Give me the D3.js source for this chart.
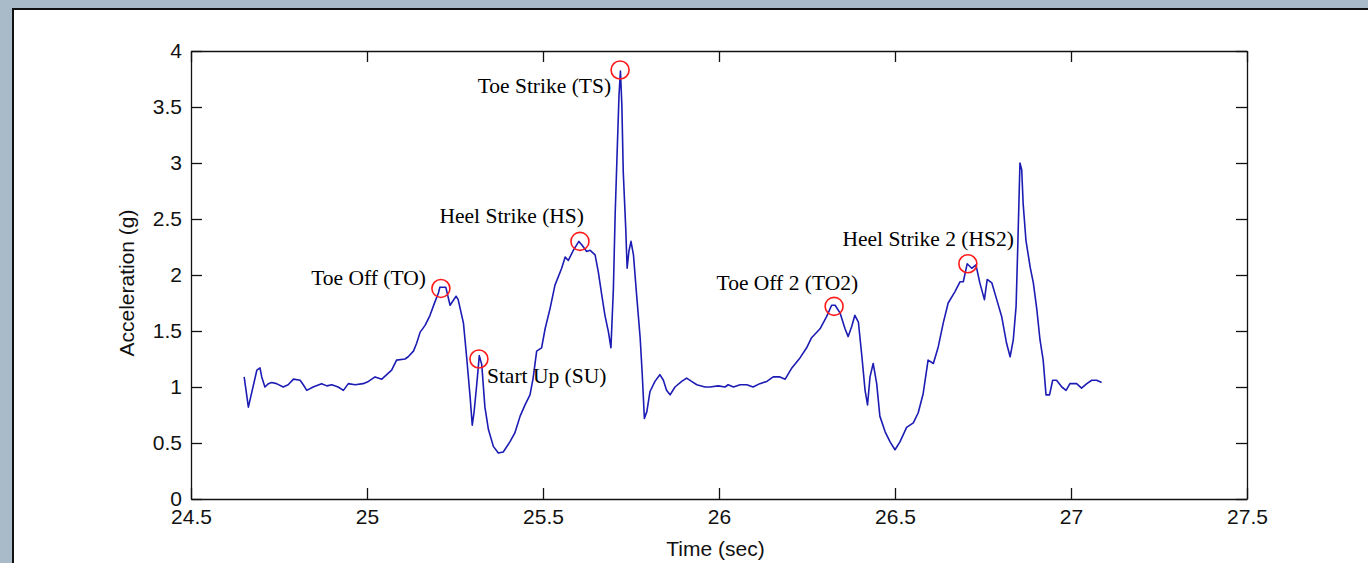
<!DOCTYPE html>
<html>
<head>
<meta charset="utf-8">
<script src="https://cdn.jsdelivr.net/npm/d3@7"></script>
<style>
  html, body { margin: 0; padding: 0; background: #a9bac8; }
  #frame {
    position: absolute; left: 12px; top: 8px; right: 0; bottom: 0;
    background: #fff; border-left: 2px solid #111; border-top: 2px solid #111;
  }
  svg { position: absolute; left: 0; top: 0; }
  .axis text { font-family: "Liberation Sans", Arial, sans-serif; font-size: 21px; fill: #111; }
  .axis path, .axis line { stroke: #111; stroke-width: 1.3; }
  .title { font-family: "Liberation Sans", Arial, sans-serif; font-size: 21px; fill: #111; }
  .note { font-family: "Liberation Serif", "Times New Roman", serif; font-size: 21.5px; fill: #000; }
</style>
</head>
<body>
<div id="frame"></div>
<div id="chart"></div>
<script>
/* data: time (sec) and acceleration (g) */
var timeSec = [
    24.651, 24.663, 24.687, 24.696, 24.701, 24.710, 24.720, 24.729, 24.743, 24.762,
    24.776, 24.791, 24.810, 24.819, 24.829, 24.847, 24.871, 24.886, 24.900, 24.918,
    24.933, 24.947, 24.966, 24.989, 25.004, 25.023, 25.042, 25.056, 25.070, 25.084,
    25.108, 25.117, 25.132, 25.141, 25.151, 25.165, 25.179, 25.193, 25.203, 25.207,
    25.224, 25.236, 25.253, 25.259, 25.274, 25.283, 25.293, 25.299, 25.304, 25.312,
    25.319, 25.326, 25.335, 25.345, 25.359, 25.373, 25.387, 25.406, 25.420, 25.435,
    25.449, 25.463, 25.472, 25.482, 25.496, 25.506, 25.520, 25.534, 25.553, 25.563,
    25.572, 25.586, 25.602, 25.610, 25.624, 25.634, 25.648, 25.657, 25.667, 25.676,
    25.686, 25.693, 25.700, 25.705, 25.711, 25.716, 25.720, 25.724, 25.728, 25.735,
    25.739, 25.744, 25.750, 25.757, 25.766, 25.776, 25.782, 25.788, 25.795, 25.804,
    25.818, 25.832, 25.842, 25.851, 25.861, 25.875, 25.894, 25.908, 25.922, 25.937,
    25.960, 25.974, 25.998, 26.017, 26.026, 26.041, 26.060, 26.079, 26.097, 26.116,
    26.136, 26.154, 26.173, 26.188, 26.207, 26.230, 26.249, 26.263, 26.287, 26.306,
    26.320, 26.330, 26.344, 26.358, 26.367, 26.377, 26.386, 26.396, 26.406, 26.415,
    26.422, 26.429, 26.438, 26.448, 26.457, 26.472, 26.486, 26.500, 26.514, 26.533,
    26.552, 26.566, 26.580, 26.594, 26.609, 26.623, 26.637, 26.651, 26.670, 26.685,
    26.694, 26.705, 26.718, 26.730, 26.741, 26.754, 26.762, 26.775, 26.789, 26.803,
    26.817, 26.827, 26.836, 26.844, 26.849, 26.852, 26.855, 26.860, 26.864, 26.872,
    26.884, 26.893, 26.903, 26.912, 26.921, 26.929, 26.939, 26.948, 26.959, 26.974,
    26.986, 26.997, 27.016, 27.030, 27.045, 27.059, 27.073, 27.087
];
var accelG = [
    1.09, 0.82, 1.15, 1.17, 1.09, 1.00, 1.03, 1.04, 1.03, 1.00,
    1.02, 1.07, 1.06, 1.02, 0.97, 1.00, 1.03, 1.01, 1.02, 1.00,
    0.97, 1.03, 1.02, 1.03, 1.05, 1.09, 1.07, 1.11, 1.15, 1.24,
    1.25, 1.27, 1.32, 1.39, 1.49, 1.55, 1.64, 1.76, 1.84, 1.89,
    1.89, 1.73, 1.81, 1.78, 1.57, 1.27, 0.91, 0.66, 0.77, 1.03,
    1.28, 1.20, 0.82, 0.62, 0.47, 0.41, 0.42, 0.51, 0.59, 0.74,
    0.84, 0.93, 1.08, 1.32, 1.35, 1.52, 1.70, 1.91, 2.06, 2.16,
    2.13, 2.22, 2.30, 2.27, 2.21, 2.22, 2.18, 2.03, 1.82, 1.64,
    1.49, 1.35, 1.88, 2.54, 3.13, 3.61, 3.82, 3.52, 2.92, 2.42,
    2.06, 2.21, 2.30, 2.18, 1.82, 1.44, 1.11, 0.72, 0.78, 0.96,
    1.05, 1.11, 1.06, 0.97, 0.93, 1.00, 1.05, 1.08, 1.05, 1.02,
    1.00, 1.00, 1.01, 1.00, 1.02, 1.00, 1.02, 1.02, 1.00, 1.03,
    1.05, 1.09, 1.09, 1.07, 1.17, 1.26, 1.35, 1.44, 1.52, 1.63,
    1.73, 1.73, 1.66, 1.52, 1.45, 1.54, 1.64, 1.58, 1.27, 0.97,
    0.84, 1.09, 1.21, 1.03, 0.74, 0.60, 0.51, 0.44, 0.51, 0.64,
    0.68, 0.77, 0.94, 1.24, 1.21, 1.36, 1.57, 1.75, 1.85, 1.94,
    1.94, 2.10, 2.06, 2.09, 1.93, 1.78, 1.96, 1.93, 1.78, 1.63,
    1.39, 1.27, 1.42, 1.72, 2.28, 2.64, 3.00, 2.94, 2.64, 2.31,
    2.07, 1.93, 1.69, 1.42, 1.24, 0.93, 0.93, 1.06, 1.06, 1.00,
    0.97, 1.03, 1.03, 0.99, 1.03, 1.06, 1.06, 1.04
];

/* gait events */
var eventNames = ["Toe Off (TO)", "Start Up (SU)", "Heel Strike (HS)", "Toe Strike (TS)",
        "Toe Off 2 (TO2)", "Heel Strike 2 (HS2)"],
    eventTimes = [25.210, 25.318, 25.605, 25.719, 26.327, 26.707],
    eventValues = [1.88, 1.25, 2.30, 3.83, 1.72, 2.10];

/* ticks */
var xTicks = [24.5, 25, 25.5, 26, 26.5, 27, 27.5],
    yTicks = [0, 0.5, 1, 1.5, 2, 2.5, 3, 3.5, 4];

/* layout */
var width = 1368,
    height = 563,
    margin = { top: 51, right: 121, bottom: 64, left: 191 },
    innerWidth = width - margin.left - margin.right,
    innerHeight = height - margin.top - margin.bottom,
    tickLen = 11,
    // where each event label sits, relative to its circle
    labelPos = [
        { dx: -15, dy: -3, anchor: "end" },
        { dx: 8, dy: 24, anchor: "start" },
        { dx: 4, dy: -18, anchor: "end" },
        { dx: -9, dy: 23, anchor: "end" },
        { dx: 24, dy: -16, anchor: "end" },
        { dx: 46, dy: -18, anchor: "end" }
    ];

var svg = d3.select("#chart")
    .append("svg")
    .attr("width", width)
    .attr("height", height),
    main = svg.append("g")
    .attr("transform", "translate(" + margin.left + "," + margin.top + ")");

/* scales */
var x = d3.scaleLinear()
    .domain([24.5, 27.5])
    .range([0, innerWidth]),
    y = d3.scaleLinear()
    .domain([0, 4])
    .range([innerHeight, 0]);

/* axes: matlab-style box, ticks pointing inward */
main.append("g")
    .attr("class", "axis")
    .attr("transform", "translate(0," + innerHeight + ")")
    .call(d3.axisBottom(x).tickValues(xTicks).tickFormat(d3.format("")).tickSizeInner(-tickLen).tickSizeOuter(0).tickPadding(10));
main.append("g")
    .attr("class", "axis")
    .call(d3.axisLeft(y).tickValues(yTicks).tickFormat(d3.format("")).tickSizeInner(-tickLen).tickSizeOuter(0).tickPadding(9));
// top and right sides close the box, ticks only
main.append("g")
    .attr("class", "axis mirror")
    .call(d3.axisTop(x).tickValues(xTicks).tickSizeInner(-tickLen).tickSizeOuter(0));
main.append("g")
    .attr("class", "axis mirror")
    .attr("transform", "translate(" + innerWidth + ",0)")
    .call(d3.axisRight(y).tickValues(yTicks).tickSizeInner(-tickLen).tickSizeOuter(0));

svg.selectAll(".mirror text").remove();
svg.selectAll(".axis").attr("font-size", null).attr("font-family", null);

/* trace */
var line = d3.line()
    .x(function(d, i) { return x(timeSec[i]); })
    .y(function(d) { return y(d); });

main.append("path")
    .datum(accelG)
    .attr("fill", "none")
    .attr("stroke", "#1c1cb4")
    .attr("stroke-width", 1.6)
    .attr("stroke-linejoin", "round")
    .attr("d", line);

/* event markers and labels */
var events = main.append("g")
    .selectAll("g")
    .data(eventNames)
    .join("g")
    .attr("transform", function(d, i) {
        return "translate(" + x(eventTimes[i]) + "," + y(eventValues[i]) + ")";
    });

events.append("circle")
    .attr("r", 9)
    .attr("fill", "none")
    .attr("stroke", "#ff1a1a")
    .attr("stroke-width", 1.6);

events.append("text")
    .attr("class", "note")
    .attr("x", function(d, i) { return labelPos[i].dx; })
    .attr("y", function(d, i) { return labelPos[i].dy; })
    .attr("text-anchor", function(d, i) { return labelPos[i].anchor; })
    .text(function(d) { return d; });

/* axis titles */
svg.append("text")
    .attr("class", "title")
    .attr("x", margin.left + x(25.99))
    .attr("y", 556)
    .attr("text-anchor", "middle")
    .text("Time (sec)");

svg.append("text")
    .attr("class", "title")
    .attr("transform", "translate(134,283) rotate(-90)")
    .attr("text-anchor", "middle")
    .text("Acceleration (g)");
</script>
</body>
</html>
